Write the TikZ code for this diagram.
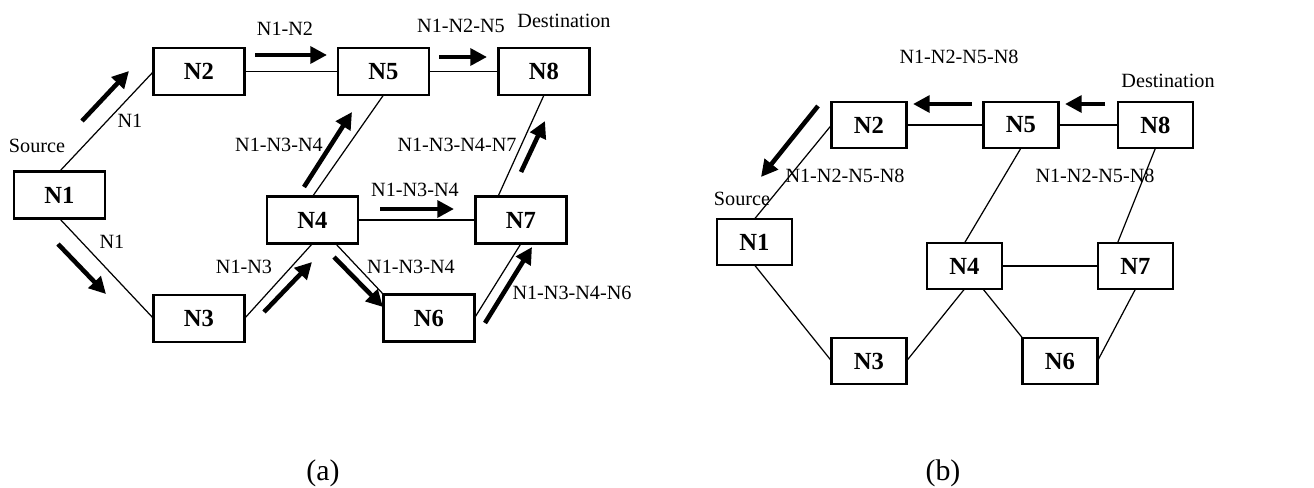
\documentclass[tikz,border=0pt]{standalone}
\usepackage{fontspec}
\setmainfont{Liberation Serif}
\usetikzlibrary{arrows.meta,calc}
\begin{document}
\begin{tikzpicture}[x=0.02cm,y=-0.02cm,
 boxa/.style={draw,line width=1.2pt,minimum width=1.82cm,minimum height=0.94cm,inner sep=0pt,outer sep=0pt,font=\fontsize{14}{16}\selectfont\bfseries},
 boxb/.style={boxa,minimum width=1.5cm,minimum height=0.92cm},
 link/.style={line width=0.7pt},
 hlink/.style={line width=1pt},
 flow/.style={line width=2.6pt,-{Triangle[length=9.5pt,width=9.5pt]}},
 lbl/.style={inner sep=0pt,font=\fontsize{11.5}{13}\selectfont},
 captext/.style={inner sep=0pt,font=\fontsize{17}{19}\selectfont}]
\path[fill=white] (0,0) rectangle (1314,487);
\useasboundingbox (0,0) rectangle (1314,487);

% ---------------- panel (a) ----------------
\node[boxa] (a1) at (59.5,195) {N1};
\node[boxa] (a2) at (199,71.5) {N2};
\node[boxa] (a5) at (383.5,71.5) {N5};
\node[boxa] (a8) at (544,71.5) {N8};
\node[boxa] (a4) at (312.5,220) {N4};
\node[boxa] (a7) at (521,220) {N7};
\node[boxa] (a3) at (199,318.5) {N3};
\node[boxa] (a6) at (429,318) {N6};

\draw[link] (a1.north) -- (a2.west);
\draw[hlink] (a2.east) -- (a5.west);
\draw[hlink] (a5.east) -- (a8.west);
\draw[link] (a1.south) -- (a3.west);
\draw[link] (a3.east) -- (a4.south);
\draw[link] (a4.north) -- (a5.south);
\draw[hlink] (a4.east) -- (a7.west);
\draw[link] ($(a7.north)+(-23,0)$) -- (a8.south);
\draw[link] ($(a4.south)+(23,0)$) -- (a6.north west);
\draw[link] (a6.east) -- (a7.south);

\draw[flow] (82,121) -- (129,71);
\draw[flow] (255,55) -- (327,55);
\draw[flow] (439,57) -- (487,57);
\draw[flow] (304,187) -- (352,112);
\draw[flow] (521,172) -- (545,121);
\draw[flow] (380,209) -- (454,209);
\draw[flow] (58,244) -- (106,294);
\draw[flow] (264,312) -- (312,262);
\draw[flow] (334,257) -- (383,307);
\draw[flow] (485,323) -- (532,247);

\node[lbl] (sa) at (37,146) {Source};
\node[lbl] (la1) at (130,121) {N1};
\node[lbl] (la2) at (112,242) {N1};
\node[lbl] (la3) at (285,29) {N1-N2};
\node[lbl] (la4) at (461,26) {N1-N2-N5};
\node[lbl] (da) at (564,21) {Destination};
\node[lbl] (la5) at (279,145) {N1-N3-N4};
\node[lbl] (la6) at (457,145) {N1-N3-N4-N7};
\node[lbl] (la7) at (415,190) {N1-N3-N4};
\node[lbl] (la8) at (244,267) {N1-N3};
\node[lbl] (la9) at (411,267) {N1-N3-N4};
\node[lbl] (la10) at (572,293) {N1-N3-N4-N6};

\node[captext] (capa) at (323,473) {(a)};

% ---------------- panel (b) ----------------
\node[boxb] (b1) at (754.5,242) {N1};
\node[boxb] (b2) at (869,125) {N2};
\node[boxb] (b5) at (1021,125) {N5};
\node[boxb] (b8) at (1155.5,125) {N8};
\node[boxb] (b4) at (964.5,266) {N4};
\node[boxb] (b7) at (1135.5,266) {N7};
\node[boxb] (b3) at (869,361) {N3};
\node[boxb] (b6) at (1060,361) {N6};

\draw[link] (b1.north) -- (b2.west);
\draw[hlink] (b2.east) -- (b5.west);
\draw[hlink] (b5.east) -- (b8.west);
\draw[link] (b5.south) -- (b4.north);
\draw[link] (b8.south) -- ($(b7.north)+(-18,0)$);
\draw[link] (b1.south) -- (b3.west);
\draw[link] (b3.east) -- (b4.south);
\draw[link] ($(b4.south)+(18.5,0)$) -- (b6.north west);
\draw[hlink] (b4.east) -- (b7.west);
\draw[link] (b6.east) -- (b7.south);

\draw[flow] (1105,104) -- (1065,104);
\draw[flow] (972,104) -- (913,104);
\draw[flow] (818,106) -- (761,177);

\node[lbl] (lb1) at (959,57) {N1-N2-N5-N8};
\node[lbl] (db) at (1168,81) {Destination};
\node[lbl] (lb2) at (845,176) {N1-N2-N5-N8};
\node[lbl] (lb3) at (1095,176) {N1-N2-N5-N8};
\node[lbl] (sb) at (742,199) {Source};

\node[captext] (capb) at (943,473) {(b)};
\end{tikzpicture}
\end{document}
